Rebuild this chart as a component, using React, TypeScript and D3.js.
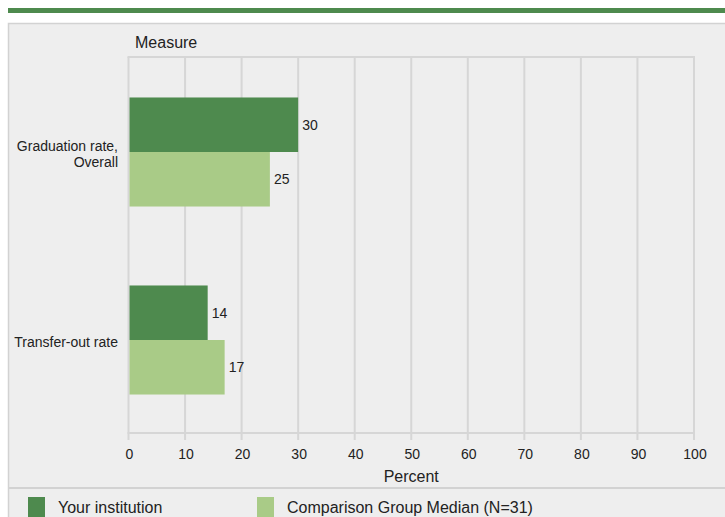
import { useEffect, useRef } from "react";
import * as d3 from "d3";

const categories = ["Graduation rate, Overall", "Transfer-out rate"];
const categoryLines = [["Graduation rate,", "Overall"], ["Transfer-out rate"]];
const seriesNames = ["Your institution", "Comparison Group Median (N=31)"];
const yourInstitution = [30, 14];
const comparisonMedian = [25, 17];
const xTicks = [0, 10, 20, 30, 40, 50, 60, 70, 80, 90, 100];

const colors = ["#4e8a4e", "#a9cb87"];
const FONT = "Arial, 'Liberation Sans', sans-serif";

export default function App() {
  const svgRef = useRef<SVGSVGElement>(null);

  useEffect(() => {
    if (!svgRef.current) return;
    const svg = d3.select(svgRef.current);
    svg.selectAll("*").remove();

    const W = 725;
    const H = 517;
    const plot = { left: 128.5, right: 694, top: 57, bottom: 433 };

    // top green rule
    svg.append("rect").attr("x", 8).attr("y", 8).attr("width", W - 8).attr("height", 5).attr("fill", "#4e8a4e");

    // gray panel
    svg.append("rect")
      .attr("x", 8.5).attr("y", 23.5)
      .attr("width", W).attr("height", H)
      .attr("fill", "#eeeeee")
      .attr("stroke", "#d2d2d2")
      .attr("stroke-width", 1.5);

    const x = d3.scaleLinear().domain([0, 100]).range([plot.left, plot.right]);
    const y = d3.scaleBand<string>()
      .domain(categories)
      .range([plot.top + 1, plot.bottom + 1])
      .paddingInner(0.42)
      .paddingOuter(0.21);
    const inner = d3.scaleBand<number>().domain([0, 1]).range([0, y.bandwidth()]);

    const g = svg.append("g");

    // vertical gridlines
    g.selectAll("line.grid")
      .data(xTicks)
      .join("line")
      .attr("class", "grid")
      .attr("x1", d => x(d)).attr("x2", d => x(d))
      .attr("y1", plot.top).attr("y2", plot.bottom + 7)
      .attr("stroke", "#d6d6d6")
      .attr("stroke-width", 2);

    // top frame and bottom axis line
    g.append("line")
      .attr("x1", plot.left - 1).attr("x2", plot.right + 1)
      .attr("y1", plot.top).attr("y2", plot.top)
      .attr("stroke", "#d6d6d6").attr("stroke-width", 2);
    g.append("line")
      .attr("x1", plot.left - 1).attr("x2", plot.right + 1)
      .attr("y1", plot.bottom).attr("y2", plot.bottom)
      .attr("stroke", "#d6d6d6").attr("stroke-width", 2);

    // bars
    const seriesValues = [yourInstitution, comparisonMedian];
    seriesValues.forEach((vals, si) => {
      g.selectAll(`rect.s${si}`)
        .data(vals)
        .join("rect")
        .attr("class", `s${si}`)
        .attr("x", x(0) + 1)
        .attr("y", (_, i) => (y(categories[i]) ?? 0) + (inner(si) ?? 0))
        .attr("width", d => x(d) - x(0) - 1)
        .attr("height", inner.bandwidth())
        .attr("fill", colors[si]);

      g.selectAll(`text.v${si}`)
        .data(vals)
        .join("text")
        .attr("class", `v${si}`)
        .attr("x", d => x(d) + 4)
        .attr("y", (_, i) => (y(categories[i]) ?? 0) + (inner(si) ?? 0) + inner.bandwidth() / 2)
        .attr("dy", "0.35em")
        .attr("font-family", FONT)
        .attr("font-size", 14)
        .attr("fill", "#222")
        .text(d => d);
    });

    // category labels
    categories.forEach((c, i) => {
      const lines = categoryLines[i];
      const cy = (y(c) ?? 0) + y.bandwidth() / 2 + 2;
      const lh = 16;
      const t = g.append("text")
        .attr("text-anchor", "end")
        .attr("font-family", FONT)
        .attr("font-size", 14)
        .attr("fill", "#222");
      lines.forEach((ln, li) => {
        t.append("tspan")
          .attr("x", 118)
          .attr("y", cy + (li - (lines.length - 1) / 2) * lh)
          .attr("dy", "0.35em")
          .text(ln);
      });
    });

    // x tick labels
    g.selectAll("text.tick")
      .data(xTicks)
      .join("text")
      .attr("class", "tick")
      .attr("x", d => x(d) + 1)
      .attr("y", 454)
      .attr("dy", "0.35em")
      .attr("text-anchor", "middle")
      .attr("font-family", FONT)
      .attr("font-size", 14)
      .attr("fill", "#222")
      .text(d => d);

    // axis titles
    svg.append("text")
      .attr("x", (plot.left + plot.right) / 2).attr("y", 476)
      .attr("dy", "0.35em")
      .attr("text-anchor", "middle")
      .attr("font-family", FONT).attr("font-size", 16).attr("fill", "#222")
      .text("Percent");
    svg.append("text")
      .attr("x", 135).attr("y", 42)
      .attr("dy", "0.35em")
      .attr("font-family", FONT).attr("font-size", 16).attr("fill", "#222")
      .text("Measure");

    // legend separator
    svg.append("line")
      .attr("x1", 8).attr("x2", W)
      .attr("y1", 488).attr("y2", 488)
      .attr("stroke", "#d2d2d2").attr("stroke-width", 2);

    // legend
    const legendX = [28, 257];
    seriesNames.forEach((name, i) => {
      svg.append("rect")
        .attr("x", legendX[i]).attr("y", 497)
        .attr("width", 17).attr("height", 22)
        .attr("fill", colors[i]);
      svg.append("text")
        .attr("x", legendX[i] + 30).attr("y", 507)
        .attr("dy", "0.35em")
        .attr("font-family", FONT).attr("font-size", 16).attr("fill", "#222")
        .text(name);
    });
  }, []);

  return (
    <svg
      ref={svgRef}
      width={725}
      height={517}
      style={{ position: "fixed", left: 0, top: 0, background: "#fff" }}
    />
  );
}
